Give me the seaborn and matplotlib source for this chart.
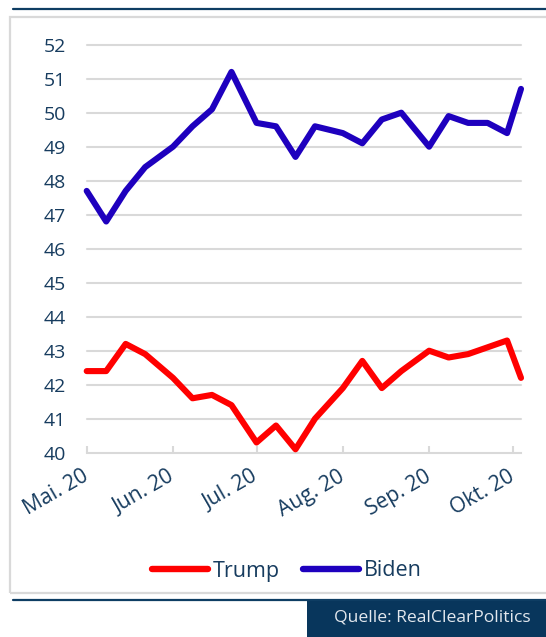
import matplotlib
matplotlib.use("Agg")
import matplotlib.pyplot as plt
from matplotlib.patches import Rectangle
from matplotlib.lines import Line2D
import pandas as pd
import seaborn as sns

# ---- data ----
dates = ["2020-05-01", "2020-05-08", "2020-05-15", "2020-05-22", "2020-06-01",
         "2020-06-08", "2020-06-15", "2020-06-22", "2020-07-01", "2020-07-08",
         "2020-07-15", "2020-07-22", "2020-08-01", "2020-08-08", "2020-08-15",
         "2020-08-22", "2020-09-01", "2020-09-08", "2020-09-15", "2020-09-22",
         "2020-09-29", "2020-10-04"]
trump = [42.4, 42.4, 43.2, 42.9, 42.2, 41.6, 41.7, 41.4, 40.3, 40.8, 40.1,
         41.0, 41.9, 42.7, 41.9, 42.4, 43.0, 42.8, 42.9, 43.1, 43.3, 42.2]
biden = [47.7, 46.8, 47.7, 48.4, 49.0, 49.6, 50.1, 51.2, 49.7, 49.6, 48.7,
         49.6, 49.4, 49.1, 49.8, 50.0, 49.0, 49.9, 49.7, 49.7, 49.4, 50.7]
series = ["Trump", "Biden"]
colors = {"Trump": "#FF0000", "Biden": "#1E00BE"}
month_ticks = ["2020-05-01", "2020-06-01", "2020-07-01", "2020-08-01",
               "2020-09-01", "2020-10-01"]
month_labels = ["Mai. 20", "Jun. 20", "Jul. 20", "Aug. 20", "Sep. 20", "Okt. 20"]
y_ticks = list(range(40, 53))
source = "Quelle: RealClearPolitics"

df = pd.DataFrame({
    "date": pd.to_datetime(dates * 2),
    "value": trump + biden,
    "candidate": ["Trump"] * len(dates) + ["Biden"] * len(dates),
})

sns.set_theme(style="white")
plt.rcParams["font.family"] = ["Open Sans", "DejaVu Sans"]

NAVY = "#173C5F"
GRID = "#D9D9D9"

fig = plt.figure(figsize=(5.46, 6.37), dpi=100)
ax = fig.add_axes([86.7 / 546, 1 - 452.7 / 637, (521 - 86.7) / 546, (452.7 - 44.7) / 637])

sns.lineplot(data=df, x="date", y="value", hue="candidate", hue_order=series,
             palette=colors, linewidth=4.4, ax=ax, legend=False,
             solid_capstyle="round", solid_joinstyle="round")

ax.set_xlim(pd.Timestamp(dates[0]), pd.Timestamp(dates[-1]))
ax.set_ylim(40, 52)
ax.set_yticks(y_ticks)
ax.set_yticklabels([str(v) for v in y_ticks])
ax.set_xticks(pd.to_datetime(month_ticks))
ax.set_xticklabels(month_labels, rotation=30, ha="right", va="center",
                   rotation_mode="anchor")
ax.set_xlabel("")
ax.set_ylabel("")

for v in y_ticks[1:]:
    ax.axhline(v, color=GRID, lw=1.5, zorder=0)
for s in ["top", "right", "left"]:
    ax.spines[s].set_visible(False)
ax.spines["bottom"].set_color(GRID)
ax.spines["bottom"].set_linewidth(1.5)
ax.spines["bottom"].set_zorder(0)

ax.tick_params(axis="x", direction="in", length=5, width=1.5, color=GRID,
               pad=16, labelsize=15.2, labelcolor=NAVY, bottom=True)
ax.tick_params(axis="y", length=0, pad=15, labelsize=14, labelcolor=NAVY)
for ln in ax.get_lines():
    ln.set_clip_on(False)

# legend
handles = [Line2D([], [], color=colors[s], lw=4.6, solid_capstyle="round") for s in series]
fig.legend(handles, series, loc="center", bbox_to_anchor=(287 / 546, 1 - 571 / 637),
           ncol=2, frameon=False, fontsize=15.5, handlelength=2.6,
           handletextpad=0.2, columnspacing=1.1, labelcolor=NAVY,
           borderaxespad=0, borderpad=0)

# frame decorations
fig.add_artist(Rectangle((10 / 546, 1 - 593 / 637), 1.2, (593 - 17) / 637,
                         transform=fig.transFigure, fill=False,
                         edgecolor=GRID, lw=1.6, zorder=0))
fig.add_artist(Line2D([13 / 546, 1], [1 - 9 / 637] * 2, transform=fig.transFigure,
                      color="#0E3D63", lw=1.6))
fig.add_artist(Line2D([13 / 546, 1], [1 - 599.5 / 637] * 2, transform=fig.transFigure,
                      color="#0E3D63", lw=1.6))
fig.add_artist(Rectangle((306.7 / 546, 0), 1, 38.5 / 637, transform=fig.transFigure,
                         facecolor="#08365C", edgecolor="none"))
fig.text(432 / 546, 1 - 617 / 637, source, ha="center", va="center",
         color="#E3E8EE", fontsize=12.6)

fig.savefig("out.png", dpi=100)
